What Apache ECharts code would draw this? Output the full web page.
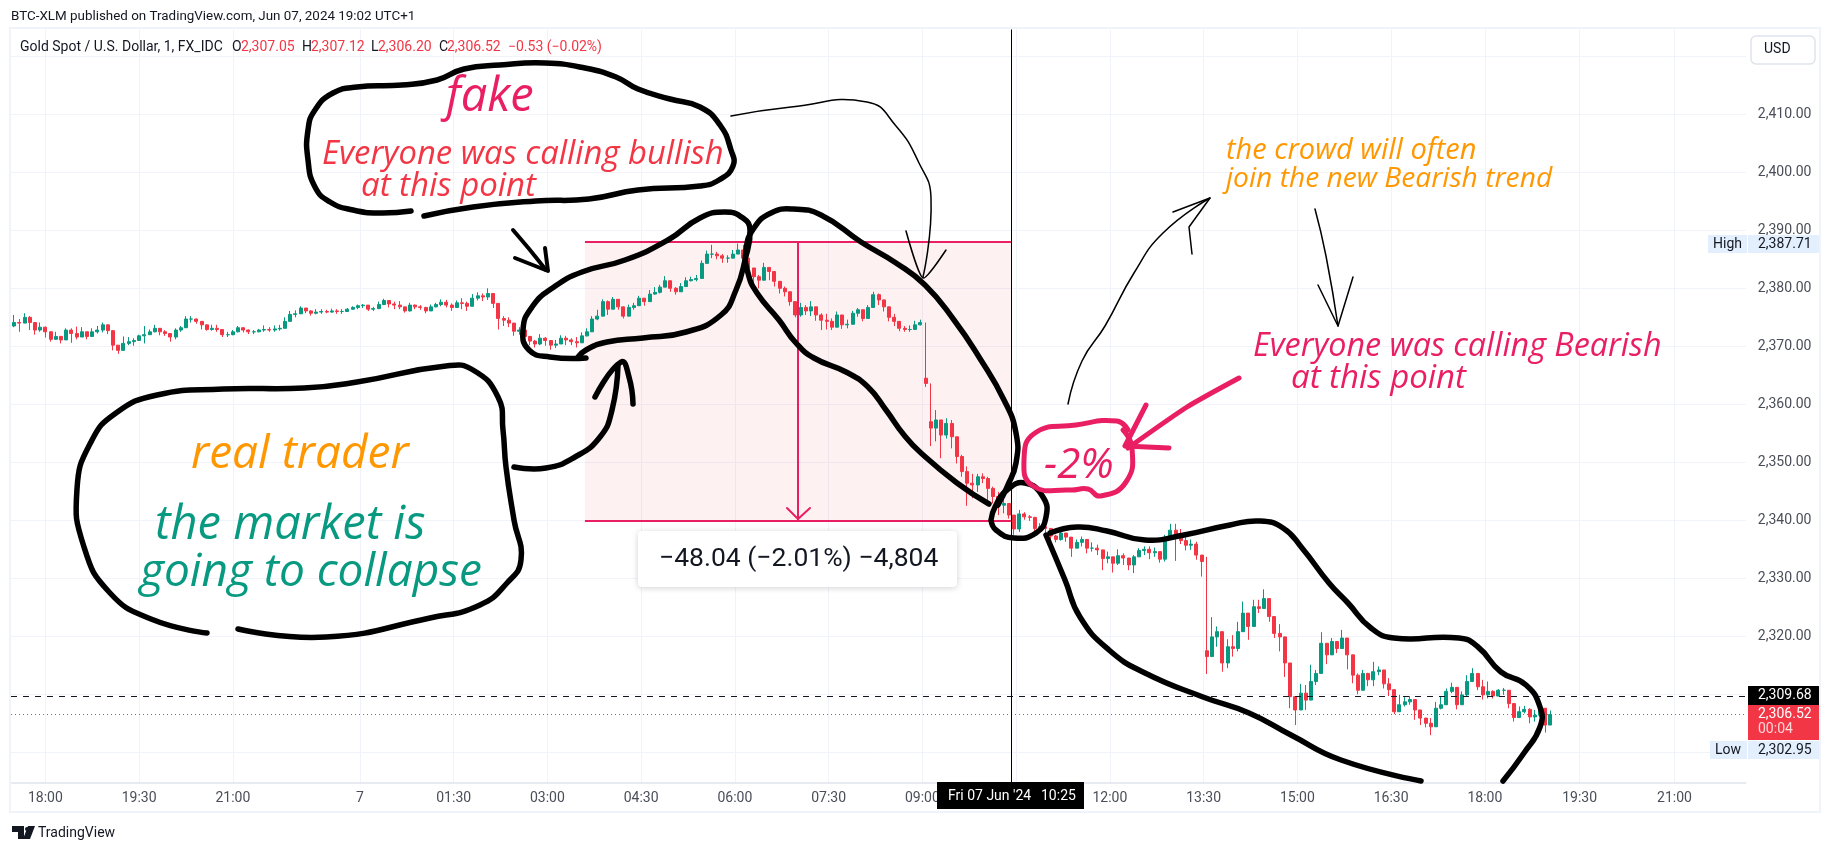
<!DOCTYPE html>
<html>
<head>
<meta charset="utf-8">
<title>Gold Spot / U.S. Dollar</title>
<script src="https://cdn.jsdelivr.net/npm/echarts@6/dist/echarts.min.js"></script>
<style>
  html, body { margin: 0; padding: 0; background: #fff; }
  #main { width: 1824px; height: 852px; }
</style>
</head>
<body>
<div id="main"></div>
<script>
// candles, one every 5 one-minute bars
const firstBar = -30;
const barStep = 5;
const closes = [
  2374.1,2374.0,2375.0,2374.1,2372.8,2373.3,2372.5,2371.2,2371.7,2371.1,
  2372.8,2372.2,2371.6,2372.5,2371.7,2372.5,2372.8,2373.7,2372.7,2370.2,
  2369.3,2370.5,2370.8,2371.0,2371.8,2372.0,2372.5,2373.1,2372.5,2372.2,
  2371.6,2372.8,2373.2,2374.7,2374.7,2374.3,2373.7,2372.9,2373.1,2372.9,
  2372.0,2372.0,2372.5,2373.2,2372.8,2372.5,2372.5,2372.8,2372.9,2372.8,
  2373.0,2373.1,2374.3,2375.5,
  2375.6,2376.6,2376.1,2375.7,2375.9,2376.0,2375.9,2376.1,2376.0,2376.0,
  2376.4,2376.7,2377.0,2377.1,2376.4,2376.5,2377.2,2377.9,2377.3,2377.1,
  2376.8,2376.1,2377.1,2376.8,2376.7,2376.1,2376.8,2377.2,2377.6,2377.1,
  2376.7,2377.5,2377.4,2376.9,2378.3,2378.7,2378.5,2379.1,2377.4,2374.8,
  2374.5,2374.0,2372.6,2372.8,2371.7,2370.9,2370.4,2371.4,2371.0,2370.2,
  2370.4,2371.4,2371.1,
  2370.8,2370.6,2371.8,2372.5,2374.7,2375.2,2377.7,2376.4,2378.1,2376.8,
  2375.2,2376.7,2377.0,2378.3,2377.7,2379.0,2379.3,2380.2,2381.3,2380.0,
  2379.4,2380.3,2381.3,2381.5,2381.7,2384.3,2385.9,2385.9,2385.6,2385.2,
  2385.2,2385.9,2386.6,2385.2,2383.5,2382.0,2381.4,2383.6,2382.9,2381.2,
  2380.0,2379.4,2377.7,2375.4,
  2376.7,2376.1,2376.8,2375.4,2374.5,2374.3,2373.3,2375.4,2373.7,2373.8,
  2375.7,2376.3,2374.8,2376.7,2378.9,2378.0,2376.8,2375.0,2374.3,2373.1,
  2372.9,2372.9,2373.7,2374.1,2363.6,2355.9,2357.3,2354.7,2356.7,2354.4,
  2351.0,2348.4,2346.4,2346.1,2347.5,2347.2,2345.5,2344.1,2342.6,2342.9,
  2340.9,
  2338.5,2341.1,2340.6,2340.5,2338.6,2338.9,2338.6,2337.3,2336.7,2337.8,
  2337.1,2335.2,2336.2,2336.7,2335.2,2335.2,2334.9,2333.4,2333.7,2332.6,
  2333.9,2333.5,2332.3,2333.7,2334.8,2335.0,2334.4,2334.6,2333.3,2336.9,
  2338.3,2336.9,2336.5,2335.7,2335.9,2334.0,2332.9,2316.5,2319.9,2320.8,
  2315.4,2318.2,2317.9,2320.8,2324.0,2321.7,2325.1,2324.8,2326.5,2323.4,
  2320.5,2319.9,2315.4,2309.6,2307.3,
  2310.2,2309.0,2312.2,2313.6,2318.8,2316.8,2319.1,2317.9,2319.7,2316.8,
  2313.3,2310.7,2313.6,2312.5,2313.9,2314.2,2311.8,2310.8,2307.0,2308.2,
  2308.7,2309.1,2307.3,2305.9,2305.0,2304.4,2307.6,2308.2,2310.5,2311.2,
  2308.2,2309.9,2312.2,2313.6,2311.3,2309.9,2310.5,2309.7,2310.7,2310.7,
  2308.4,2306.0,2307.0,2307.4,2306.1,2306.4,2307.6,2304.7,2306.5
];
const highs = [
  2375.4,2374.7,2375.7,2375.2,2373.7,2374.1,2373.4,2372.2,2372.5,2371.8,
  2373.1,2373.1,2373.4,2373.3,2372.4,2373.1,2373.5,2374.1,2373.3,2371.8,
  2370.2,2371.7,2371.6,2371.4,2372.0,2373.5,2372.9,2373.7,2372.9,2372.8,
  2372.1,2373.1,2373.5,2375.2,2375.2,2374.8,2374.3,2373.7,2373.7,2373.7,
  2372.7,2372.5,2372.8,2373.5,2373.1,2372.9,2372.8,2373.0,2373.6,2373.3,
  2373.6,2373.7,2375.0,2376.1,
  2376.2,2376.9,2376.6,2376.2,2376.4,2376.4,2376.3,2376.5,2376.4,2376.4,
  2376.6,2376.9,2377.2,2377.3,2377.0,2376.8,2377.7,2378.2,2377.8,2377.7,
  2377.8,2376.8,2377.5,2377.2,2377.1,2376.8,2377.2,2377.5,2378.1,2378.0,
  2377.4,2377.9,2378.3,2377.7,2379.0,2379.3,2379.1,2380.0,2379.0,2376.6,
  2375.2,2375.0,2373.4,2373.3,2372.5,2371.8,2371.1,2372.1,2371.6,2371.0,
  2371.1,2371.9,2371.8,
  2371.4,2371.6,2372.4,2373.1,2375.2,2376.3,2378.1,2377.9,2378.5,2377.9,
  2376.6,2377.2,2377.5,2378.7,2378.3,2379.7,2380.2,2380.6,2382.1,2380.6,
  2380.2,2380.9,2381.9,2382.0,2382.3,2384.8,2386.5,2387.5,2386.3,2385.9,
  2385.7,2386.6,2387.71,2387.5,2384.0,2382.9,2382.3,2384.4,2383.6,2381.7,
  2381.2,2380.3,2379.1,2377.0,
  2377.5,2377.1,2377.8,2376.0,2375.7,2375.6,2374.8,2376.0,2374.8,2374.6,
  2376.1,2376.6,2375.7,2377.1,2379.4,2379.1,2377.7,2376.0,2375.6,2373.8,
  2373.5,2373.6,2374.4,2374.6,2374.1,2363.6,2359.0,2356.1,2357.6,2357.3,
  2354.4,2351.3,2349.3,2348.0,2348.0,2348.1,2347.5,2345.8,2344.9,2343.8,
  2342.8,
  2340.2,2341.8,2341.4,2340.9,2340.6,2339.5,2339.5,2338.0,2337.5,2338.2,
  2337.5,2336.9,2336.7,2337.2,2336.3,2336.2,2335.8,2334.6,2334.6,2333.7,
  2335.0,2334.3,2333.2,2334.0,2335.2,2335.5,2335.5,2335.3,2334.3,2337.5,
  2339.4,2339.4,2338.5,2337.1,2336.7,2336.3,2333.9,2333.7,2323.3,2321.7,
  2319.1,2319.5,2320.2,2322.5,2326.0,2323.7,2326.3,2326.3,2328.1,2326.0,
  2322.1,2322.1,2318.5,2313.3,2309.6,
  2311.8,2311.6,2315.1,2314.2,2320.7,2317.8,2319.7,2319.2,2321.1,2317.9,
  2315.0,2313.6,2314.2,2313.7,2315.6,2314.8,2313.3,2312.8,2310.2,2309.9,
  2309.5,2309.7,2308.7,2307.3,2305.9,2305.9,2308.7,2309.6,2311.0,2312.0,
  2309.9,2310.5,2313.3,2314.5,2313.2,2312.5,2312.2,2310.7,2310.9,2311.1,
  2310.7,2308.2,2307.9,2308.0,2307.6,2307.3,2308.2,2305.9,2307.2
];
const lows = [
  2373.3,2372.5,2374.0,2372.8,2372.0,2372.5,2371.5,2370.8,2371.1,2370.5,
  2371.2,2370.6,2371.2,2372.0,2371.2,2372.0,2372.2,2372.4,2372.1,2369.3,
  2368.7,2369.7,2370.2,2370.1,2371.0,2370.5,2372.1,2372.4,2371.9,2371.8,
  2370.8,2371.2,2372.5,2373.7,2374.1,2373.9,2372.9,2372.7,2372.7,2372.5,
  2371.6,2371.6,2371.9,2372.4,2372.4,2372.1,2372.1,2372.4,2372.5,2372.5,
  2372.5,2372.7,2373.1,2374.7,
  2375.0,2376.0,2375.7,2375.3,2375.5,2375.6,2375.7,2375.8,2375.6,2375.6,
  2375.9,2376.3,2376.4,2376.6,2376.1,2376.1,2376.4,2377.1,2376.7,2376.4,
  2376.4,2375.8,2376.0,2376.4,2376.3,2375.7,2376.4,2376.7,2376.9,2376.7,
  2376.1,2376.8,2376.4,2376.1,2377.3,2377.9,2377.8,2378.0,2376.6,2372.9,
  2373.5,2373.3,2371.8,2372.0,2371.0,2370.2,2369.8,2370.2,2370.1,2369.4,
  2369.7,2370.6,2370.2,
  2370.2,2369.8,2371.1,2371.7,2373.4,2374.5,2375.7,2375.4,2376.6,2376.3,
  2374.8,2375.8,2376.3,2377.5,2377.0,2378.3,2378.9,2379.1,2380.2,2379.4,
  2378.9,2380.0,2380.3,2381.2,2381.2,2382.0,2384.9,2385.2,2385.0,2384.4,
  2384.4,2385.6,2385.9,2384.6,2382.6,2380.6,2380.0,2382.9,2381.4,2380.3,
  2379.1,2378.6,2377.0,2375.0,
  2375.1,2375.4,2375.2,2374.4,2372.8,2372.9,2372.8,2373.7,2373.0,2373.1,
  2374.4,2375.1,2374.3,2375.6,2377.5,2377.1,2376.0,2374.3,2373.5,2372.6,
  2372.5,2372.5,2372.8,2373.6,2363.0,2352.8,2353.6,2350.7,2354.1,2352.4,
  2349.8,2347.5,2342.5,2343.8,2344.9,2346.4,2343.2,2342.9,2340.9,2341.2,
  2340.3,
  2337.5,2338.0,2340.1,2339.9,2338.0,2338.0,2337.8,2336.0,2336.2,2336.5,
  2336.3,2333.7,2335.2,2335.5,2334.3,2334.6,2334.0,2331.4,2332.6,2331.0,
  2332.3,2332.3,2331.4,2330.9,2333.7,2334.0,2333.3,2333.7,2332.7,2332.9,
  2336.7,2333.0,2335.9,2334.8,2334.9,2333.2,2330.3,2313.5,2316.5,2318.2,
  2313.9,2314.5,2316.5,2317.4,2322.0,2319.4,2322.0,2324.0,2325.0,2322.5,
  2319.7,2317.4,2313.0,2307.6,2304.7,
  2307.3,2307.3,2310.2,2311.6,2315.9,2315.2,2317.1,2317.1,2317.9,2314.3,
  2311.9,2310.0,2311.6,2311.4,2311.4,2313.3,2311.0,2309.7,2306.6,2307.4,
  2307.9,2308.2,2305.6,2304.7,2304.3,2302.95,2305.3,2307.4,2309.0,2310.2,
  2307.4,2308.2,2309.7,2312.2,2310.7,2309.1,2309.3,2309.3,2309.7,2309.9,
  2307.6,2305.3,2305.9,2306.7,2305.0,2305.3,2306.1,2303.4,2305.0
];
const firstOpen = 2373.5;
// the steep falls are thin streaks, so these bars open low and keep the fall in the wick
const streakBars = [845, 850, 1115];
const streakOpens = [2364.5, 2357.0, 2317.5];

// time axis, counted in one-minute bars from the 18:00 bar
const tickBars = [0,90,180,302,392,482,572,662,752,842,932,1022,1112,1202,1292,1382,1473,1564];
const tickLabels = ['18:00','19:30','21:00','7','01:30','03:00','04:30','06:00','07:30','09:00','10:30','12:00','13:30','15:00','16:30','18:00','19:30','21:00'];
const priceGrid = [2300,2310,2320,2330,2340,2350,2360,2370,2380,2390,2400,2410,2420];
const priceLabels = [2320,2330,2340,2350,2360,2370,2380,2390,2400,2410];

// measure tool and crosshair
const measureFrom = 518, measureTo = 927, measureMid = 722;
const measureHigh = 2387.95, measureLow = 2339.95;
const prevClose = 2309.68, lastPrice = 2306.52;

const bars = closes.map((c, k) => {
  const bar = firstBar + k * barStep;
  const streak = streakBars.indexOf(bar);
  const open = streak >= 0 ? streakOpens[streak] : (k === 0 ? firstOpen : closes[k - 1]);
  return [bar, open, c, lows[k], highs[k]];
});

const UP = '#089981', DOWN = '#f23645', PINK = '#e91e63', ORANGE = '#ff9800', INK = '#131722';
const GRIDC = '#f0f3fa';
const UI_FONT = 'Roboto, sans-serif';
const HAND_FONT = '"Open Sans", sans-serif';

function txt(text, x, y, size, fill, extra) {
  return { type: 'text', z: 60, silent: true, style: Object.assign({
    text: text, x: x, y: y, fill: fill, font: size + 'px ' + UI_FONT, textVerticalAlign: 'middle'
  }, extra || {}) };
}
function hand(text, x, y, size, fill) {
  return { type: 'text', z: 60, silent: true, style: {
    text: text, x: x, y: y, fill: fill, font: 'italic ' + size + 'px ' + HAND_FONT, textVerticalAlign: 'middle'
  } };
}
function box(x, y, w, h, fill, extra) {
  return { type: 'rect', z: 55, silent: true, shape: Object.assign({ x: x, y: y, width: w, height: h }, (extra && extra.shape) || {}),
    style: Object.assign({ fill: fill }, (extra && extra.style) || {}) };
}
function pen(points, width, color, smooth) {
  return { type: 'polyline', z: 50, silent: true, shape: { points: points, smooth: smooth === undefined ? 0.5 : smooth },
    style: { stroke: color || '#000', lineWidth: width, fill: 'none', lineCap: 'round', lineJoin: 'round' } };
}

// hand drawn balloons and arrows, in page pixels
const drawings = [
  // fake balloon
  pen([[411,211],[379,213],[353,210],[330,202],[315,187],[308,160],[308,130],[315,110],[333,93],[357,87],[402,85],[437,80],[464,69],[500,65],[545,63],[585,68],[616,77],[638,89],[670,99],[700,107],[720,125],[731,150],[733,166],[719,180],[700,186],[638,190],[589,199],[536,201],[473,207],[424,216]], 5.5),
  pen([[513,230],[530,250],[546,270]], 4, '#000', 0.2),
  pen([[545,248],[548,271],[515,258]], 4, '#000', 0),
  // rising balloon
  pen([[586,358],[550,357],[529,350],[523,330],[532,307],[554,287],[582,272],[625,260],[668,240],[700,218],[725,212],[743,218],[750,230],[745,260],[736,290],[721,315],[686,332],[643,338],[607,342],[586,350],[577,358]], 5.5),
  // falling balloon
  pen([[989,504],[957,483],[921,453],[904,435],[886,410],[868,387],[846,372],[814,358],[796,343],[779,320],[757,293],[748,273],[746,250],[754,228],[771,213],[793,209],[821,215],[861,242],[896,263],[925,285],[954,320],[979,357],[1004,400],[1016,433],[1016,463],[1007,487],[998,505]], 5.5),
  // small circle
  pen([[991,520],[996,530],[1014,538],[1036,533],[1046,517],[1043,497],[1025,483],[1007,490],[995,507],[991,520]], 5.5),
  // lower balloon
  pen([[1050,533],[1077,527],[1107,531],[1145,540],[1184,535],[1230,525],[1260,521],[1283,528],[1302,548],[1329,583],[1348,603],[1371,628],[1394,638],[1459,638],[1478,647],[1501,672],[1526,685],[1540,707],[1540,727],[1524,753],[1503,781]], 5.5),
  pen([[1046,535],[1065,580],[1080,617],[1109,650],[1145,673],[1203,697],[1249,713],[1291,735],[1341,760],[1421,781]], 5.5),
  // real trader balloon
  pen([[207,633],[151,619],[110,593],[84,547],[77,489],[91,442],[116,413],[157,395],[223,389],[304,388],[357,382],[446,366],[473,370],[498,397],[503,430],[506,467],[514,520],[521,560],[507,583],[480,605],[430,618],[326,637],[238,629]], 5.5),
  pen([[514,467],[546,468],[575,457],[600,437],[612,410],[618,365]], 5.5),
  pen([[595,397],[621,362],[629,377],[633,404]], 5.5),
  // thin arrows
  pen([[731,116],[791,107],[867,102],[896,126],[919,163],[931,198],[923,277]], 1.5),
  pen([[906,231],[923,278],[946,250]], 1.5, '#000', 0.2),
  pen([[1068,404],[1082,361],[1105,326],[1134,273],[1163,233],[1210,198]], 1.5),
  pen([[1173,212],[1210,198],[1189,227],[1192,254]], 1.5, '#000', 0),
  pen([[1315,209],[1326,256],[1338,326]], 1.5),
  pen([[1318,285],[1338,326],[1353,277]], 1.5, '#000', 0),
  // measure arrow head
  pen([[787,508],[798,519],[810,508]], 2, PINK, 0),
  // -2% cloud and its arrow
  pen([[1128,430],[1117,421],[1076,425],[1035,433],[1024,460],[1033,486],[1070,490],[1088,489],[1100,496],[1126,482],[1132,448],[1123,430]], 5, PINK),
  pen([[1239,378],[1187,407],[1128,448]], 5, PINK, 0.2),
  pen([[1146,405],[1125,446],[1169,448]], 5, PINK, 0)
];

const labels = [
  hand('fake', 446, 98, 47, PINK),
  hand('Everyone was calling bullish', 322, 155, 32.8, DOWN),
  hand('at this point', 361, 187, 33, DOWN),
  hand('real trader', 191, 455, 46, ORANGE),
  hand('the market is', 155, 526, 47, UP),
  hand('going to collapse', 140, 573, 46, UP),
  hand('the crowd will often', 1226, 151, 29, ORANGE),
  hand('join the new Bearish trend', 1226, 179, 28.2, ORANGE),
  hand('Everyone was calling Bearish', 1253, 347, 32.3, PINK),
  hand('at this point', 1291, 379, 33, PINK),
  hand('-2%', 1044, 466, 42, PINK)
];

// page furniture around the plot
const furniture = [
  box(0, 0, 10, 852, '#ffffff'),
  box(10, 28, 1810, 784, 'transparent', { style: { stroke: GRIDC, lineWidth: 2 } }),
  txt('BTC-XLM published on TradingView.com, Jun 07, 2024 19:02 UTC+1', 11, 17, 13.4, INK),
  txt('Gold Spot / U.S. Dollar, 1, FX_IDC', 20, 47, 14, INK),
  txt('O', 232, 47, 14, INK), txt('2,307.05', 241, 47, 14, DOWN),
  txt('H', 302, 47, 14, INK), txt('2,307.12', 311, 47, 14, DOWN),
  txt('L', 371, 47, 14, INK), txt('2,306.20', 378, 47, 14, DOWN),
  txt('C', 439, 47, 14, INK), txt('2,306.52', 447, 47, 14, DOWN),
  txt('\u22120.53 (\u22120.02%)', 508, 47, 14, DOWN),
  box(1751, 36, 64, 28, '#fff', { shape: { r: 5 }, style: { stroke: '#e0e3eb', lineWidth: 1.5 } }),
  txt('USD', 1764, 49, 14, INK),
  box(1708, 235, 39, 18, '#e3effd'), txt('High', 1713, 244, 14, INK),
  box(1748, 235, 71, 18, '#e3effd'), txt('2,387.71', 1758, 244, 14, INK),
  box(1710, 741, 37, 18, '#e3effd'), txt('Low', 1715, 750, 14, INK),
  box(1748, 741, 71, 18, '#e3effd'), txt('2,302.95', 1758, 750, 14, INK),
  box(1748, 686, 71, 19, '#000'), txt('2,309.68', 1758, 695, 14, '#fff'),
  box(1748, 705, 71, 35, DOWN), txt('2,306.52', 1758, 714, 14, '#fff'), txt('00:04', 1758, 729, 14, '#ffd5d8'),
  box(937, 782, 147, 27, '#000'),
  txt('Fri 07 Jun \u002724', 948, 796, 14, '#fff'), txt('10:25', 1041, 796, 14, '#fff'),
  box(638, 531, 319, 56, '#fff', { shape: { r: 4 }, style: { shadowBlur: 6, shadowColor: 'rgba(0,0,0,0.18)', shadowOffsetY: 1 } }),
  txt('\u221248.04 (\u22122.01%) \u22124,804', 659, 559, 26.5, INK),
  { type: 'polygon', z: 60, silent: true, shape: { points: [[12,826],[24,826],[24,839],[18,839],[18,832],[12,832]] }, style: { fill: INK } },
  { type: 'polygon', z: 60, silent: true, shape: { points: [[28,826],[35,826],[30,839],[23,839]] }, style: { fill: INK } },
  { type: 'circle', z: 60, silent: true, shape: { cx: 27, cy: 829, r: 2 }, style: { fill: INK } },
  txt('TradingView', 38, 833, 14, INK)
];

const chart = echarts.init(document.getElementById('main'));
chart.setOption({
  animation: false,
  backgroundColor: '#ffffff',
  grid: { left: 11, right: 78.2, top: 29.5, bottom: 69.3 },
  xAxis: {
    type: 'value',
    min: -33,
    max: 1632.5,
    axisLine: { onZero: false, lineStyle: { color: '#e0e3eb', width: 1.5 } },
    axisTick: { show: false, customValues: tickBars },
    splitLine: { show: true, lineStyle: { color: GRIDC, width: 1 } },
    axisLabel: {
      customValues: tickBars,
      color: '#4a4e58', fontFamily: UI_FONT, fontSize: 14, margin: 9,
      formatter: v => tickLabels[tickBars.indexOf(v)]
    }
  },
  yAxis: {
    type: 'value',
    position: 'right',
    min: 2294.76,
    max: 2424.62,
    axisLine: { show: true, lineStyle: { color: '#f0f3fa' } },
    axisTick: { show: false, customValues: priceGrid },
    splitLine: { show: true, lineStyle: { color: GRIDC, width: 1 } },
    axisLabel: {
      customValues: priceLabels,
      color: '#4a4e58', fontFamily: UI_FONT, fontSize: 14, margin: 12,
      formatter: v => v.toLocaleString('en-US', { minimumFractionDigits: 2 })
    }
  },
  series: [{
    type: 'candlestick',
    data: bars,
    barWidth: 3.5,
    itemStyle: { color: UP, color0: DOWN, borderColor: UP, borderColor0: DOWN, borderWidth: 1 },
    silent: true,
    markArea: {
      silent: true,
      itemStyle: { color: 'rgba(242,54,69,0.07)' },
      data: [[{ coord: [measureFrom, measureHigh] }, { coord: [measureTo, measureLow] }]]
    },
    markLine: {
      silent: true,
      symbol: 'none',
      label: { show: false },
      data: [
        [{ coord: [measureFrom, measureHigh], lineStyle: { color: PINK, width: 2, type: 'solid' } }, { coord: [measureTo, measureHigh] }],
        [{ coord: [measureFrom, measureLow], lineStyle: { color: PINK, width: 2, type: 'solid' } }, { coord: [measureTo, measureLow] }],
        [{ coord: [measureMid, measureHigh], lineStyle: { color: PINK, width: 2, type: 'solid' } }, { coord: [measureMid, measureLow] }],
        [{ coord: [-33, prevClose], lineStyle: { color: '#131722', width: 1, type: [6, 6] } }, { coord: [1632.5, prevClose] }],
        [{ coord: [-33, lastPrice], lineStyle: { color: DOWN, width: 1, type: [1, 3] } }, { coord: [1632.5, lastPrice] }],
        [{ coord: [measureTo, 2294.76], lineStyle: { color: '#000', width: 1, type: 'solid' } }, { coord: [measureTo, 2424.62] }]
      ]
    }
  }],
  graphic: drawings.concat(labels, furniture)
});
</script>
</body>
</html>
